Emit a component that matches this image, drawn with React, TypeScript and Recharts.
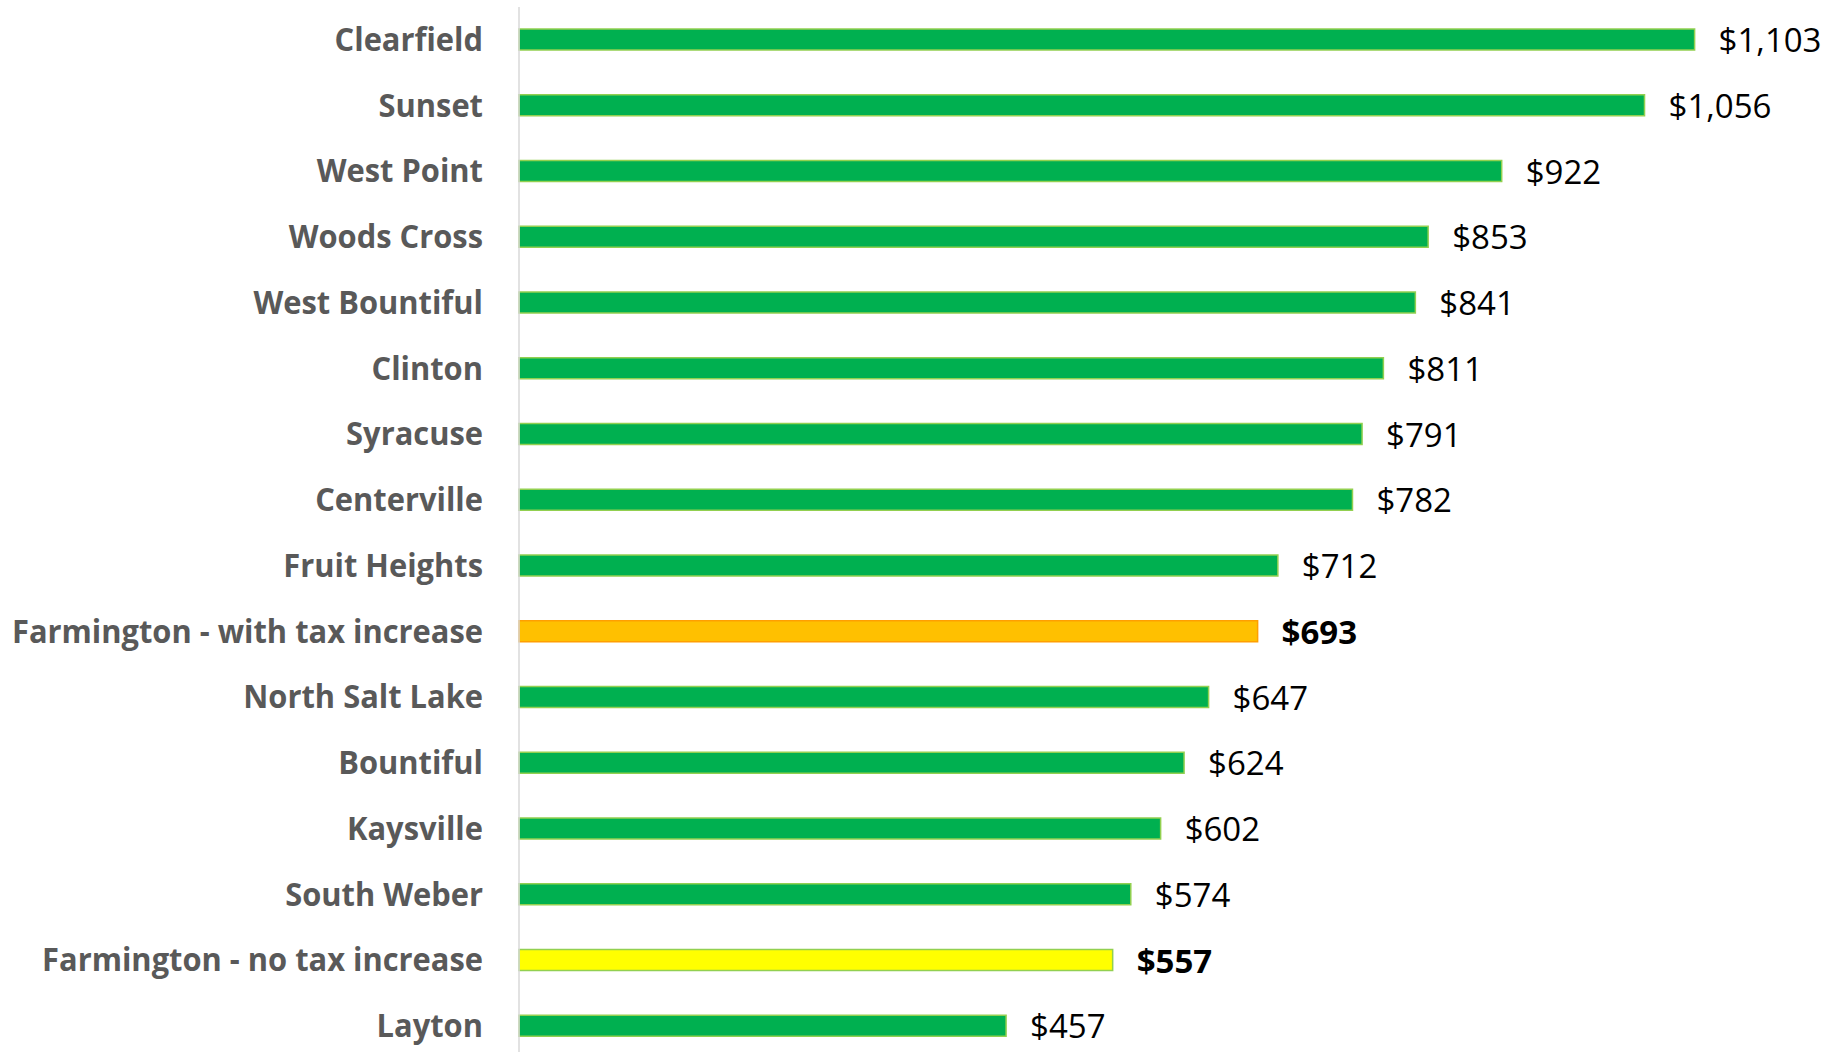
import React from "react";
import { BarChart, Bar, XAxis, YAxis, Cell, LabelList } from "recharts";

const categories = [
  "Clearfield",
  "Sunset",
  "West Point",
  "Woods Cross",
  "West Bountiful",
  "Clinton",
  "Syracuse",
  "Centerville",
  "Fruit Heights",
  "Farmington - with tax increase",
  "North Salt Lake",
  "Bountiful",
  "Kaysville",
  "South Weber",
  "Farmington - no tax increase",
  "Layton",
];

const costs = [1103, 1056, 922, 853, 841, 811, 791, 782, 712, 693, 647, 624, 602, 574, 557, 457];

const withTaxName = "Farmington - with tax increase";
const noTaxName = "Farmington - no tax increase";

const data = categories.map((name, i) => ({ name, value: costs[i] }));

const fillFor = (name: string) =>
  name === withTaxName ? "#FFC000" : name === noTaxName ? "#FFFF00" : "#00B050";
const strokeFor = (name: string) =>
  name === withTaxName ? "#FF9F00" : "#92D050";

const fmt = (v: number) => "$" + v.toLocaleString("en-US");

const CategoryTick = (props: any) => {
  const { x, y, payload } = props;
  return (
    <text
      transform={`translate(${x + 1},${y - 2}) scale(0.935,1)`}
      textAnchor="end"
      dominantBaseline="central"
      fontFamily="'Open Sans', sans-serif"
      fontWeight={700}
      fontSize={33}
      fill="#595959"
    >
      {payload.value}
    </text>
  );
};

const ValueLabel = (props: any) => {
  const { x, y, width, height, value, index } = props;
  const name = categories[index];
  const bold = name === withTaxName || name === noTaxName;
  return (
    <text
      x={x + width + 24}
      y={y + height / 2}
      dominantBaseline="central"
      fontFamily="'Open Sans', sans-serif"
      fontWeight={bold ? 700 : 400}
      fontSize={33}
      fill="#000000"
    >
      {fmt(value)}
    </text>
  );
};

export default function App() {
  return (
    <div style={{ position: "absolute", left: 0, top: 0, background: "#fff" }}>
      <BarChart
        width={1846}
        height={1060}
        data={data}
        layout="vertical"
        margin={{ top: 7, right: 48, bottom: 1, left: 0 }}
        barSize={21}
      >
        <XAxis type="number" domain={[0, 1200]} hide />
        <YAxis
          type="category"
          dataKey="name"
          width={519}
          tickLine={false}
          axisLine={{ stroke: "#D9D9D9", strokeWidth: 1.5 }}
          tickSize={0}
          tickMargin={37}
          tick={<CategoryTick />}
          interval={0}
        />
        <Bar dataKey="value" isAnimationActive={false} strokeWidth={1.5}>
          {data.map((d) => (
            <Cell key={d.name} fill={fillFor(d.name)} stroke={strokeFor(d.name)} />
          ))}
          <LabelList dataKey="value" content={<ValueLabel />} />
        </Bar>
      </BarChart>
    </div>
  );
}
